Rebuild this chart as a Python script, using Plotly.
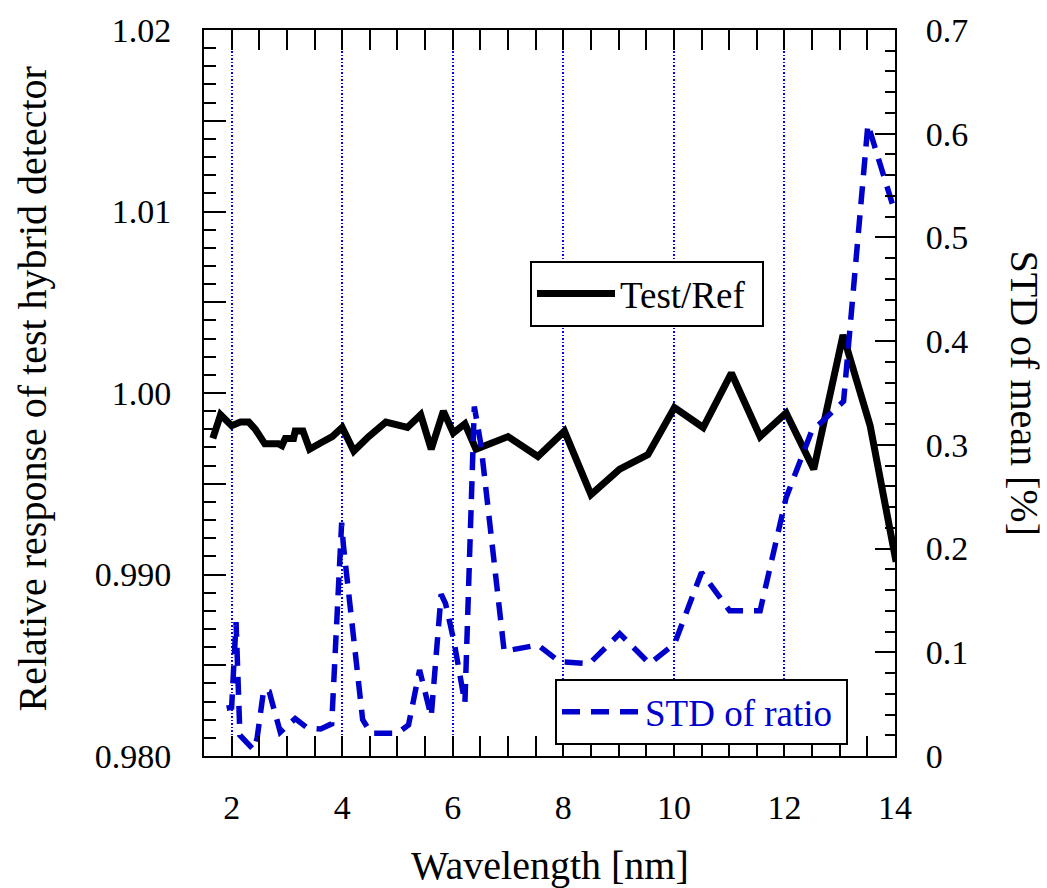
import plotly.graph_objects as go

# ---- data ----
ratio_x = [1.66, 1.80, 2.00, 2.16, 2.31, 2.43, 2.60, 2.85, 2.91, 2.97, 3.12, 3.15, 3.29, 3.41,
           3.64, 3.82, 4.00, 4.21, 4.48, 4.79, 5.18, 5.42, 5.61, 5.83, 6.01, 6.22, 6.42, 7.00,
           7.54, 8.02, 8.50, 9.02, 9.53, 10.01, 10.53, 11.04, 11.56, 12.03, 12.53, 13.06, 13.55, 14.02]
ratio_y = [0.9975, 0.9988, 0.9982, 0.9984, 0.9984, 0.9980, 0.9972, 0.9972, 0.9971, 0.9975, 0.9975,
           0.9979, 0.9979, 0.9969, 0.9973, 0.9976, 0.9981, 0.9968, 0.9976, 0.9984, 0.9981, 0.9988,
           0.9969, 0.9990, 0.9978, 0.9983, 0.9969, 0.9976, 0.9965, 0.9979, 0.9944, 0.9958, 0.9966,
           0.9992, 0.9981, 1.0011, 0.9976, 0.9989, 0.9958, 1.0032, 0.9982, 0.9907]

std_x = [1.91, 2.00, 2.08, 2.15, 2.40, 2.46, 2.58, 2.68, 2.88, 3.15, 3.37, 3.61, 3.81, 3.99, 4.02,
         4.37, 4.52, 5.00, 5.20, 5.40, 5.61, 5.79, 5.87, 6.02, 6.22, 6.39, 6.51, 6.93, 7.54, 7.93,
         8.47, 9.02, 9.56, 10.01, 10.50, 11.01, 11.56, 12.03, 12.49, 12.80, 13.07, 13.51, 14.00]
std_y = [0.046, 0.047, 0.129, 0.020, 0.006, 0.017, 0.064, 0.062, 0.023, 0.036, 0.027, 0.026, 0.031,
         0.225, 0.204, 0.035, 0.022, 0.022, 0.030, 0.083, 0.038, 0.156, 0.147, 0.111, 0.051, 0.337,
         0.300, 0.101, 0.107, 0.091, 0.089, 0.118, 0.089, 0.108, 0.177, 0.140, 0.140, 0.249, 0.313,
         0.329, 0.342, 0.609, 0.524]

left_tickvals = [0.980, 0.985, 0.990, 0.995, 1.000, 1.005, 1.010, 1.015, 1.020]
left_ticktext = ["0.980", "", "0.990", "", "1.00", "", "1.01", "", "1.02"]
right_tickvals = [0, 0.1, 0.2, 0.3, 0.4, 0.5, 0.6, 0.7]
right_ticktext = ["0", "0.1", "0.2", "0.3", "0.4", "0.5", "0.6", "0.7"]

FONT = "Times New Roman, Liberation Serif, serif"
BLUE = "#0000cc"

fig = go.Figure()
fig.add_trace(go.Scatter(x=ratio_x, y=ratio_y, mode="lines", name="Test/Ref",
                         line=dict(color="black", width=7), legend="legend"))
fig.add_trace(go.Scatter(x=std_x, y=std_y, mode="lines", name="STD of ratio", yaxis="y2",
                         line=dict(color=BLUE, width=5.5, dash="18px,11px"), legend="legend2"))

W, H = 1047, 888
L, R, T, B = 204, 152, 27, 132
PW, PH = W - L - R, H - T - B

fig.update_layout(
    width=W, height=H, autosize=False,
    margin=dict(l=L, r=R, t=T, b=B),
    paper_bgcolor="white", plot_bgcolor="white",
    font=dict(family=FONT, size=34, color="black"),
    xaxis=dict(range=[1.5, 14], tick0=0, dtick=2, ticks="inside", ticklen=20, tickwidth=2,
               tickcolor="black", showline=True, linecolor="black", linewidth=2,
               mirror="allticks", showgrid=True, gridcolor="#0000ff", gridwidth=1.5,
               griddash="1.5px,2px", zeroline=False, ticklabelstandoff=20,
               tickfont=dict(family=FONT, size=34),
               minor=dict(dtick=0.5, tick0=0, ticks="inside", ticklen=11, tickwidth=2,
                          tickcolor="black", showgrid=False)),
    yaxis=dict(range=[0.98, 1.02], tickmode="array", tickvals=left_tickvals,
               ticktext=left_ticktext, ticks="inside", ticklen=22, tickwidth=2,
               tickcolor="black", showline=True, linecolor="black", linewidth=2,
               mirror=False, showgrid=False, zeroline=False, ticklabelstandoff=24,
               tickfont=dict(family=FONT, size=34),
               minor=dict(dtick=0.001, tick0=0.98, ticks="inside", ticklen=12, tickwidth=2,
                          tickcolor="black", showgrid=False)),
    yaxis2=dict(range=[0, 0.7], overlaying="y", side="right", tickmode="array",
                tickvals=right_tickvals, ticktext=right_ticktext, ticks="inside",
                ticklen=20, tickwidth=2, tickcolor="black", showline=True,
                linecolor="black", linewidth=2, showgrid=False, zeroline=False,
                ticklabelstandoff=22, tickfont=dict(family=FONT, size=34),
                minor=dict(dtick=0.02, tick0=0, ticks="inside", ticklen=10, tickwidth=2,
                           tickcolor="black", showgrid=False)),
    legend=dict(orientation="h", x=(530 - L) / PW, y=(H - B - 259) / PH,
                entrywidth=137, entrywidthmode="pixels", itemwidth=78,
                xanchor="left", yanchor="top", bgcolor="white", bordercolor="black",
                borderwidth=2, font=dict(family=FONT, size=37, color="black")),
    legend2=dict(orientation="h", x=(555 - L) / PW, y=(H - B - 679) / PH,
                 entrywidth=196, entrywidthmode="pixels", itemwidth=78,
                 xanchor="left", yanchor="top", bgcolor="white", bordercolor="black",
                 borderwidth=2, font=dict(family=FONT, size=37, color=BLUE)),
    annotations=[
        dict(text="Wavelength [nm]", xref="paper", yref="paper", x=0.5, y=(H - B - 866) / PH,
             xanchor="center", yanchor="middle", showarrow=False,
             font=dict(family=FONT, size=40, color="black")),
        dict(text="Relative response of test hybrid detector", xref="paper", yref="paper",
             x=(33 - L) / PW, y=(H - B - 388) / PH, xanchor="center",
             yanchor="middle", textangle=-90, showarrow=False,
             font=dict(family=FONT, size=40, color="black")),
        dict(text="STD of mean [%]", xref="paper", yref="paper",
             x=(1024 - L) / PW, y=(H - B - 391) / PH, xanchor="center",
             yanchor="middle", textangle=90, showarrow=False,
             font=dict(family=FONT, size=40, color="black")),
    ],
    showlegend=True,
)

fig.write_html("out.html", config={"displayModeBar": False},
               post_script="document.body.style.margin='0';")
